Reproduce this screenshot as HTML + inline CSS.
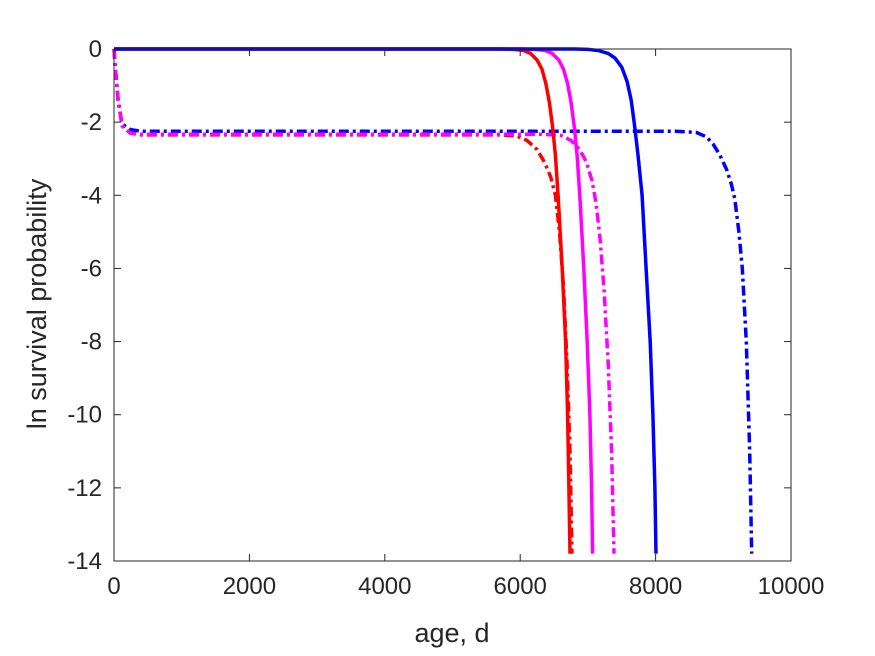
<!DOCTYPE html>
<html><head><meta charset="utf-8"><style>
body{margin:0;background:#fff;}
svg{display:block;font-family:"Liberation Sans",Arial,sans-serif;}
</style></head><body>
<svg id="chart" width="875" height="656">
<g id="plot"></g>
<g id="axes"></g>
<text x="452" y="642" font-size="27" fill="#262626" text-anchor="middle">age, d</text>
<text transform="translate(46,304) rotate(-90)" font-size="27" fill="#262626" text-anchor="middle">ln survival probability</text>
</svg>
<script>
const xTicks=[0,2000,4000,6000,8000,10000];
const yTicks=[0,-2,-4,-6,-8,-10,-12,-14];
const seriesNames=["blue-solid","red-solid","magenta-solid","blue-dashed","red-dashed","magenta-dashed"];
const seriesColors=["#0000ff","#ff0000","#ff00ff","#0000ff","#ff0000","#ff00ff"];
const seriesDashed=[false,false,false,true,true,true];
const blueSolidAge=[0,6800,7000,7150,7300,7400,7500,7580,7640,7690,7740,7800,7860,7920,7960,7990,8006];
const blueSolidLnS=[0,0,-0.01,-0.04,-0.12,-0.25,-0.5,-0.9,-1.4,-2.1,-2.9,-4,-6,-8,-10,-12,-13.8];
const redSolidAge=[0,5700,5900,6050,6150,6250,6320,6380,6430,6480,6520,6560,6620,6670,6700,6720,6735];
const redSolidLnS=[0,0,-0.01,-0.04,-0.12,-0.3,-0.55,-0.95,-1.45,-2.15,-2.9,-4,-6,-8,-10,-12,-13.8];
const magSolidAge=[0,6000,6220,6370,6470,6570,6640,6700,6750,6800,6840,6880,6940,6990,7030,7055,7070];
const magSolidLnS=[0,0,-0.01,-0.04,-0.12,-0.3,-0.55,-0.95,-1.45,-2.15,-2.9,-4,-6,-8,-10,-12,-13.8];
const blueDashAge=[0,15,60,120,240,400,8300,8600,8750,8850,8950,9050,9120,9170,9230,9280,9340,9390,9420];
const blueDashLnS=[0,-0.4,-1.4,-2.05,-2.2,-2.25,-2.25,-2.28,-2.4,-2.6,-2.9,-3.3,-3.7,-4.1,-5,-6,-8,-11,-13.8];
const redDashAge=[0,15,60,120,240,400,5700,5950,6100,6250,6360,6450,6520,6580,6640,6690,6735,6765];
const redDashLnS=[0,-0.4,-1.4,-2.1,-2.3,-2.35,-2.35,-2.38,-2.5,-2.75,-3.1,-3.5,-4,-5,-6.5,-8.5,-11,-13.8];
const magDashAge=[0,15,60,120,240,400,6300,6600,6750,6880,6980,7060,7120,7180,7240,7300,7350,7385];
const magDashLnS=[0,-0.4,-1.4,-2.1,-2.3,-2.33,-2.33,-2.36,-2.5,-2.75,-3.1,-3.6,-4.2,-5.2,-6.6,-8.6,-11,-13.8];
const seriesAges=[blueSolidAge,redSolidAge,magSolidAge,blueDashAge,redDashAge,magDashAge];
const seriesVals=[blueSolidLnS,redSolidLnS,magSolidLnS,blueDashLnS,redDashLnS,magDashLnS];

const L=114,R=791,T=49,B=561;
const xs=v=>L+(v-0)/(10000)*(R-L);
const ys=v=>T+(0-v)/14*(B-T);
const NS="http://www.w3.org/2000/svg";
const plot=document.getElementById('plot'),axes=document.getElementById('axes');
function mk(t,a,p){const e=document.createElementNS(NS,t);for(const k in a)e.setAttribute(k,a[k]);p.appendChild(e);return e;}
const order=[3,4,5,1,2,0];
order.forEach(i=>{
  const d=seriesAges[i].map((a,j)=>(j?'L':'M')+xs(a).toFixed(1)+' '+ys(seriesVals[i][j]).toFixed(1)).join(' ');
  const p=mk('path',{d:d,fill:'none',stroke:seriesColors[i],'stroke-width':3.5,'stroke-linejoin':'round'},plot);
  if(seriesDashed[i])p.setAttribute('stroke-dasharray','10 4 3 4');
  
  
});
const box=mk('rect',{x:L,y:T,width:R-L,height:B-T,fill:'none',stroke:'#262626','stroke-width':1},axes);


xTicks.forEach(t=>{
  const x=xs(t);
  mk('line',{x1:x,x2:x,y1:B,y2:B-7,stroke:'#262626'},axes);
  mk('line',{x1:x,x2:x,y1:T,y2:T+7,stroke:'#262626'},axes);
  const tx=mk('text',{x:x,y:B+33,'font-size':24,fill:'#262626','text-anchor':'middle'},axes);
  tx.textContent=t;
  
  
});
yTicks.forEach(t=>{
  const y=ys(t);
  mk('line',{x1:L,x2:L+7,y1:y,y2:y,stroke:'#262626'},axes);
  mk('line',{x1:R,x2:R-7,y1:y,y2:y,stroke:'#262626'},axes);
  const tx=mk('text',{x:L-12,y:y+8,'font-size':24,fill:'#262626','text-anchor':'end'},axes);
  tx.textContent=t;
  
  
});
</script>
</body></html>
